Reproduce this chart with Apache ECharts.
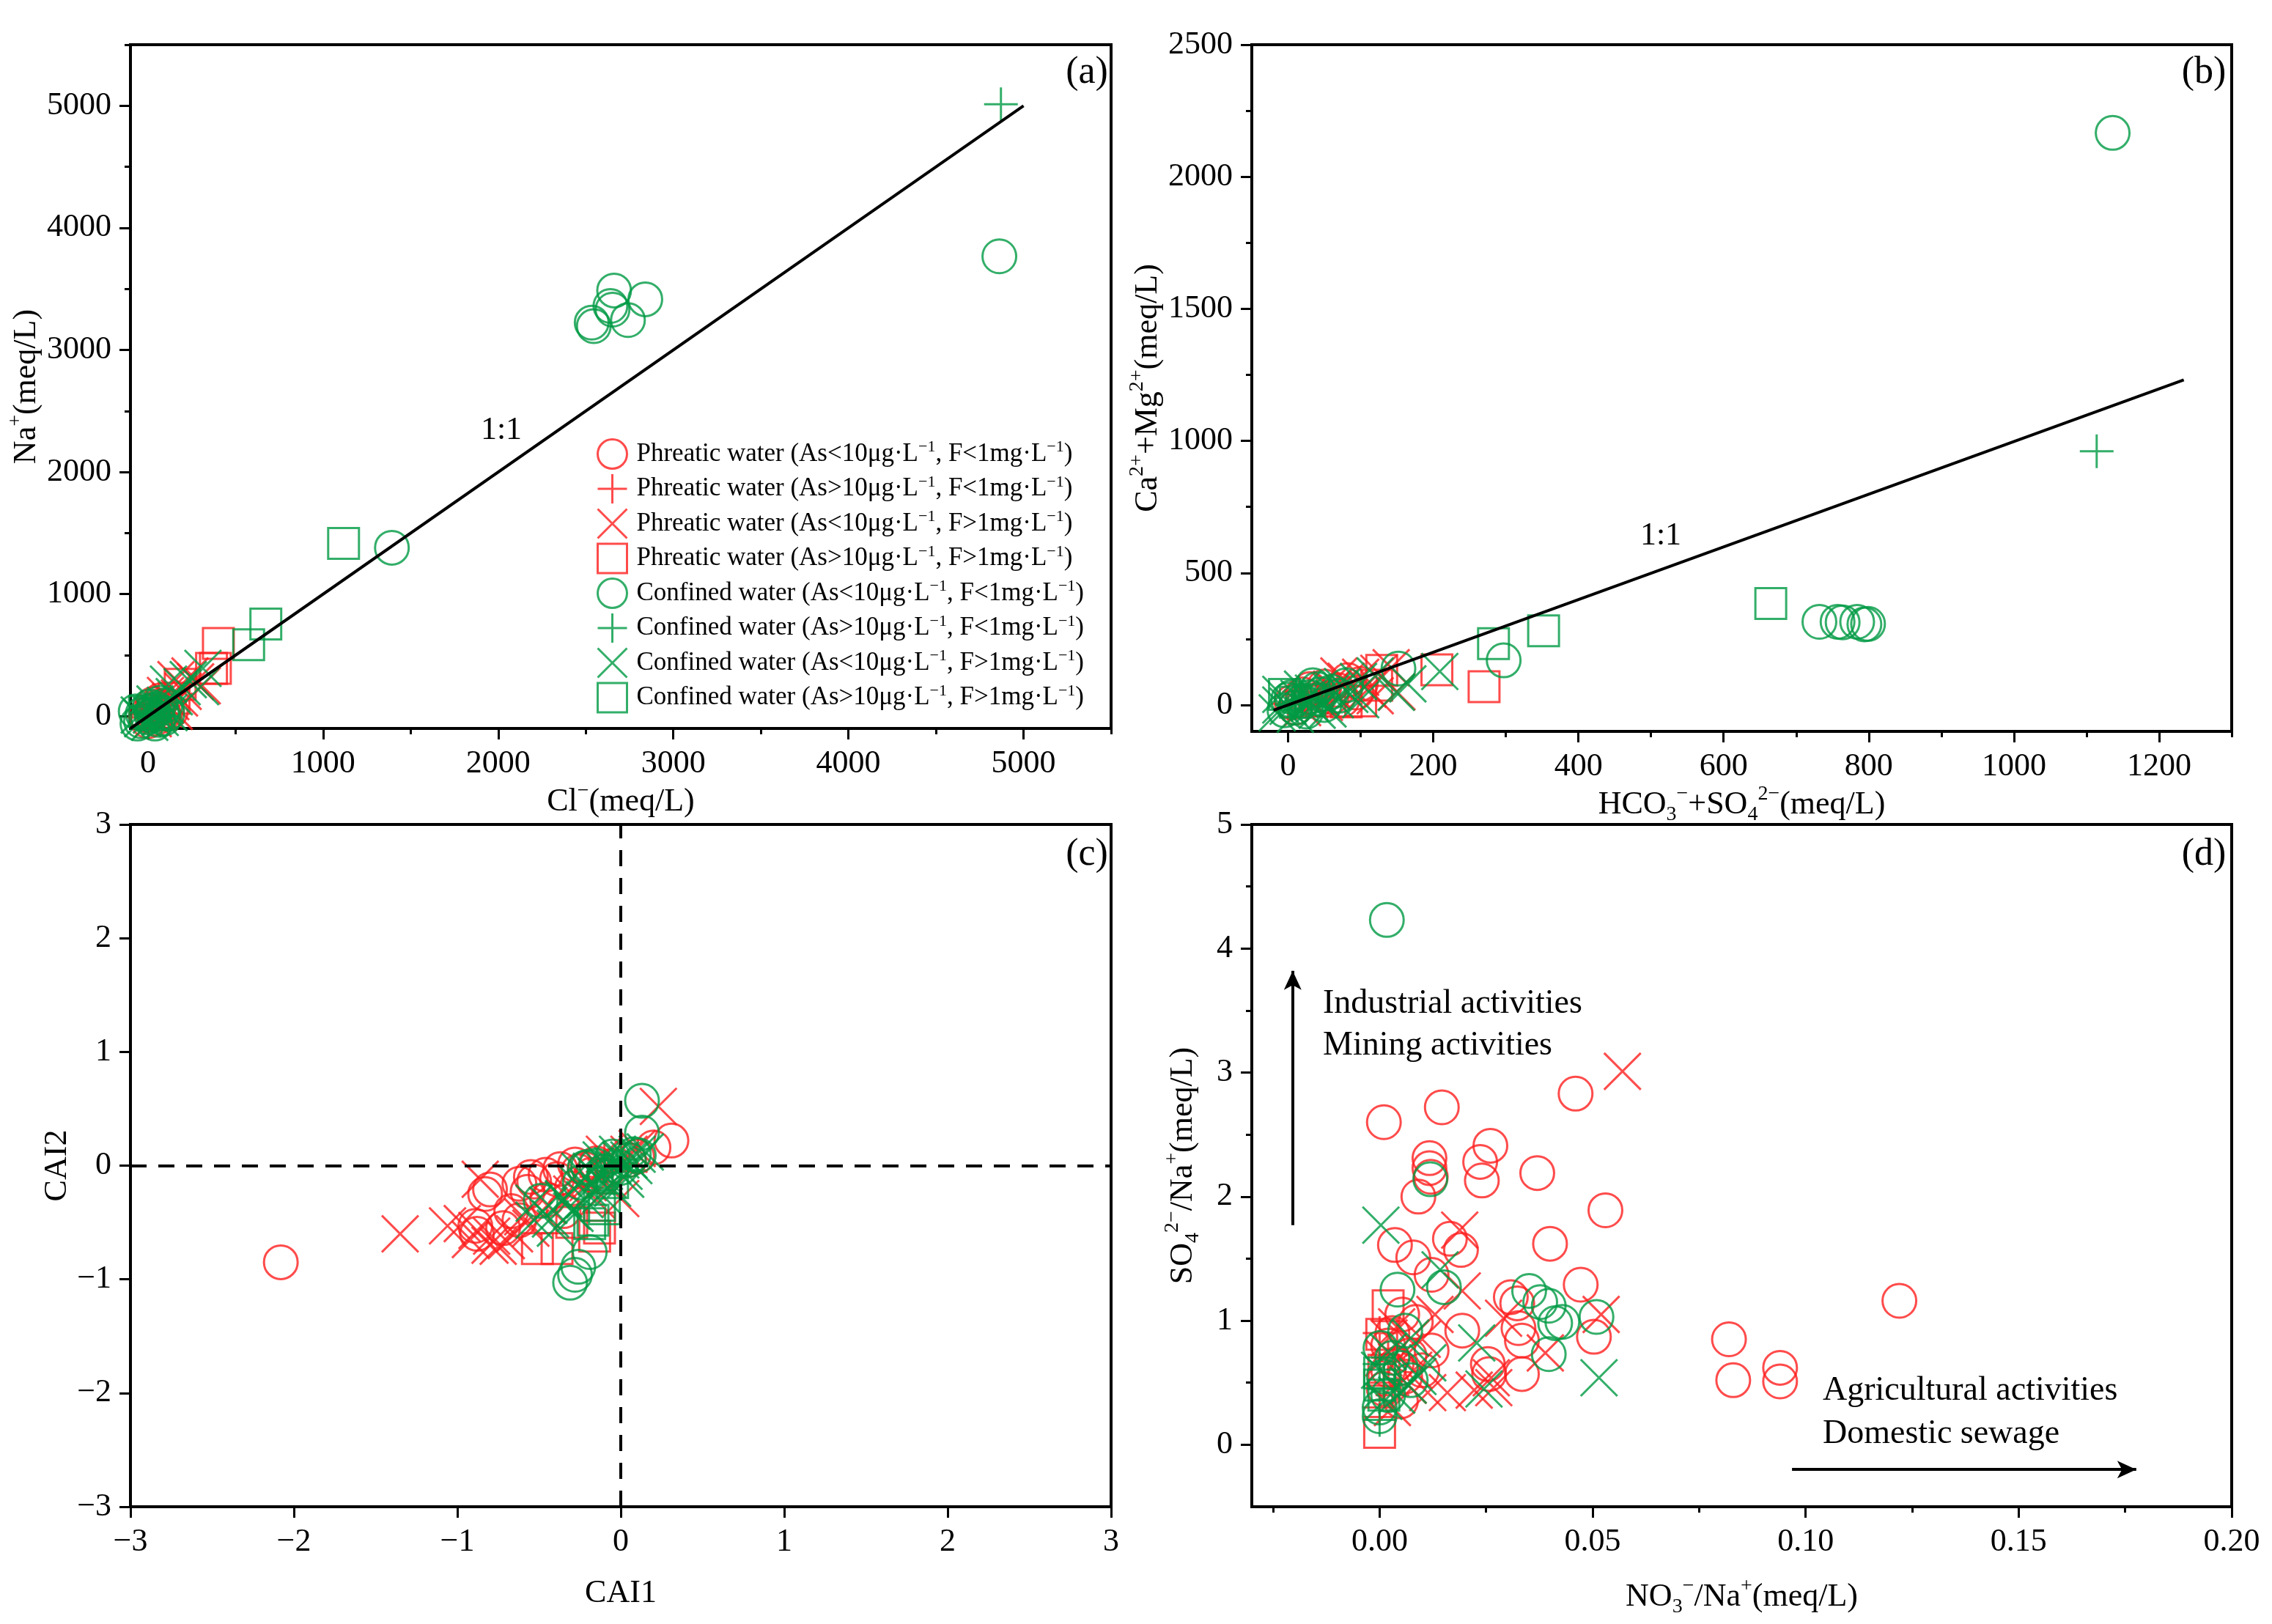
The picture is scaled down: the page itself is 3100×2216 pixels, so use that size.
<!DOCTYPE html>
<html>
<head>
<meta charset="utf-8">
<script src="https://cdn.jsdelivr.net/npm/echarts@6/dist/echarts.min.js"></script>
<style>
  html, body { margin: 0; background: #fff; }
  #chart-container { width: 3100px; height: 2216px; }
</style>
</head>
<body>
<div id="chart-container"></div>
<script>
// legend names (the "-1" becomes a superscript in the legend)
const seriesNames = [
    'Phreatic water (As<10μg·L-1, F<1mg·L-1)',
    'Phreatic water (As>10μg·L-1, F<1mg·L-1)',
    'Phreatic water (As<10μg·L-1, F>1mg·L-1)',
    'Phreatic water (As>10μg·L-1, F>1mg·L-1)',
    'Confined water (As<10μg·L-1, F<1mg·L-1)',
    'Confined water (As>10μg·L-1, F<1mg·L-1)',
    'Confined water (As<10μg·L-1, F>1mg·L-1)',
    'Confined water (As>10μg·L-1, F>1mg·L-1)'
];

// (a) Cl- vs Na+
const a_phr1 = [[20,40],[60,80],[-10,10],[90,20],[40,-20],[110,70],[0,-40],[70,130],[30,100],[130,40]];
const a_phr2 = [[10,20],[50,40],[80,90],[-20,-10],[120,110],[30,60]];
const a_phr3 = [[272,282],[201,204],[160,300],[240,330],[130,120],[90,60],[180,150],[60,30],[310,250],[30,-20],[150,40],[100,170]];
const a_phr4 = [[402,596],[363,392],[385,392],[184,262],[149,148],[60,20]];
const a_con1 = [[2534,3224],[2546,3195],[2641,3360],[2662,3487],[2653,3330],[2741,3245],[2840,3415],[4862,3767],[1393,1380],
    [50,60],[80,30],[20,10],[-30,20],[60,-30],[100,90],[0,-10],[30,50],[-40,-40],[90,-20],[10,80],
    [-60,-60],[40,-60],[-70,40],[110,20],[70,110]];
const a_con2 = [[4871,5013],[20,10],[50,50],[-10,30],[80,0]];
const a_con3 = [[314,392],[300,242],[195,242],[117,263],[230,300],[150,160],[100,90],[60,50],[20,10],[-30,-20],[40,100],[120,30],
    [-50,10],[10,-50],[70,-10]];
const a_con4 = [[673,756],[575,586],[1117,1416],[30,20],[-20,40]];
const a_line = [[-100,-100],[5000,5000]];

// (b) HCO3- + SO4 2- vs Ca2+ + Mg2+
const b_phr1 = [[82,94],[94,47],[68,57],[60,30],[40,20],[20,40],[100,80],[30,60],[5,10],[50,70],[75,20],[10,-10]];
const b_phr2 = [[10,10],[25,20],[40,35],[0,5],[55,30],[15,50]];
const b_phr3 = [[142,141],[125,120],[100,105],[80,90],[60,60],[110,60],[120,35],[30,20],[20,-10],[50,10],[150,50],[70,110]];
const b_phr4 = [[270,69],[205,133],[129,131],[122,75],[100,15],[80,12],[40,15]];
const b_con1 = [[1136,2166],[732,315],[757,315],[764,313],[784,315],[794,305],[799,307],[297,169],[152,138],[34,75],
    [60,50],[45,40],[20,15],[30,30],[70,35],[10,-10],[0,20],[40,60],[80,75],[-5,-20],[5,30],[25,-25],[50,0]];
const b_con2 = [[1114,961],[10,5],[20,20],[5,0]];
const b_con3 = [[209,127],[149,48],[97,89],[75,70],[60,50],[120,110],[30,10],[15,25],[0,-5],[45,30],[165,80],[-10,0],[100,20],[20,60],[55,-15],
    [-15,-30],[35,45],[65,20],[-10,40],[10,-35],[40,-20],[85,40]];
const b_con4 = [[665,384],[352,281],[283,232],[10,10],[30,20],[-5,40]];
const b_line = [[-20,-20],[1234,1231]];

// (c) CAI1 vs CAI2
const c_phr1 = [[-2.08,-0.85],[-0.83,-0.25],[-0.88,-0.60],[-0.57,-0.23],[-0.55,-0.10],[-0.53,-0.14],[-0.37,-0.03],[-0.39,-0.12],
    [-0.26,-0.05],[-0.22,-0.03],[0.31,0.22],[0.20,0.16],[-0.45,-0.30],[-0.62,-0.48],[-0.15,0.02],[-0.10,-0.10],[-0.30,-0.20],
    [0.05,0.05],[-0.72,-0.55],[-0.35,-0.40],[0.10,0.08],[-0.05,0.00],[-0.28,0.01],[-0.46,-0.08],[-0.62,-0.16],[-0.80,-0.21],
    [-0.89,-0.53],[-0.67,-0.40],[-0.18,-0.08]];
const c_phr2 = [[-0.10,0.05],[-0.05,-0.05],[0.00,0.02],[-0.15,-0.10]];
const c_phr3 = [[-1.35,-0.60],[-1.06,-0.53],[-0.97,-0.51],[-0.88,-0.57],[-0.79,-0.62],[-0.75,-0.71],[-0.70,-0.66],[0.23,0.52],
    [-0.86,-0.12],[-0.60,-0.45],[-0.45,-0.35],[-0.30,-0.25],[-0.20,-0.15],[0.05,0.10],[0.10,0.15],[-0.80,-0.70],
    [0.00,-0.29],[-0.15,-0.30],[-0.55,-0.55],[-0.92,-0.65],[-0.65,-0.60],[-0.10,0.10]];
const c_phr4 = [[-0.51,-0.73],[-0.39,-0.73],[-0.16,-0.62],[-0.30,-0.50],[-0.13,-0.55]];
const c_con1 = [[0.13,0.57],[0.13,0.29],[-0.31,-1.03],[-0.28,-0.96],[-0.26,-0.89],[-0.19,-0.76],[0.11,0.09],[0.05,0.05],
    [-0.10,-0.05],[-0.20,-0.01],[-0.15,0.00],[-0.05,0.08],[0.00,-0.02],[-0.49,-0.31],[-0.25,-0.15],[-0.10,-0.08],[0.08,0.10],[-0.22,-0.02]];
const c_con2 = [[-0.05,0.00],[0.00,0.05],[-0.10,-0.02]];
const c_con3 = [[-0.53,-0.48],[-0.44,-0.35],[-0.26,-0.17],[-0.35,-0.30],[-0.15,-0.10],[-0.10,-0.05],[-0.05,0.00],[0.00,0.05],
    [0.05,0.05],[0.10,0.10],[-0.20,-0.20],[-0.08,-0.12],[0.02,-0.05],[-0.40,-0.55],[-0.30,-0.40],[0.15,0.12],[-0.12,0.05],
    [-0.53,-0.33],[-0.35,-0.29],[-0.28,-0.42],[-0.43,-0.47],[-0.22,-0.30],[-0.18,-0.05],[-0.05,-0.20],[0.08,0.00],
    [-0.02,0.10],[-0.25,-0.05],[-0.12,-0.25],[0.03,-0.12]];
const c_con4 = [[-0.13,-0.35],[-0.17,-0.48],[-0.05,-0.15],[-0.19,-0.51],[-0.10,-0.38]];

// (d) NO3-/Na+ vs SO4 2-/Na+
const d_phr1 = [[0.001,2.60],[0.0146,2.72],[0.046,2.83],[0.026,2.41],[0.0117,2.31],[0.0117,2.23],[0.012,2.16],[0.0236,2.28],
    [0.024,2.13],[0.037,2.19],[0.0091,2.00],[0.053,1.89],[0.0036,1.61],[0.0079,1.51],[0.0165,1.66],[0.0191,1.57],[0.040,1.62],
    [0.0472,1.29],[0.0122,1.37],[0.0308,1.19],[0.0323,1.14],[0.0326,0.94],[0.0334,0.84],[0.0194,0.92],[0.0254,0.65],
    [0.0257,0.57],[0.0334,0.57],[0.0503,0.87],[0.122,1.16],[0.082,0.85],[0.083,0.52],[0.094,0.62],[0.094,0.51],[0.0122,0.76],
    [0.0085,0.99],[0.0053,1.05],[0.002,0.80],[0.004,0.65],[0.006,0.55],[0.001,0.45],[0.003,0.90],[0.007,0.72],[0.010,0.60],
    [0.005,0.35],[0.002,0.60]];
const d_phr2 = [[0.000,0.30],[0.001,0.50],[0.002,0.70],[0.000,0.90],[0.003,0.40]];
const d_phr3 = [[0.057,3.01],[0.0188,1.73],[0.0194,1.24],[0.052,1.05],[0.0291,1.02],[0.0262,0.54],[0.0389,0.74],[0.0159,0.42],
    [0.0222,0.44],[0.0268,0.46],[0.0113,0.42],[0.0067,0.48],[0.0022,0.86],[0.001,0.70],[0.004,0.95],[0.010,0.85],[0.008,0.60],
    [0.003,0.30],[0.013,1.05],[0.006,0.75]];
const d_phr4 = [[0.002,1.12],[0.000,0.10],[0.0005,0.89],[0.001,0.60]];
const d_con1 = [[0.0017,4.23],[0.0119,2.14],[0.0042,1.25],[0.0151,1.27],[0.0351,1.24],[0.0377,1.15],[0.0397,1.12],[0.0429,0.99],
    [0.0412,0.98],[0.0509,1.03],[0.0397,0.73],[0.000,0.23],[0.0002,0.78],[0.006,0.92],[0.0073,0.52],[0.000,0.30],[0.001,0.55],
    [0.003,0.70],[0.002,0.40],[0.005,0.62]];
const d_con2 = [[0.000,0.20],[0.001,0.45],[0.000,0.65]];
const d_con3 = [[0.0003,1.77],[0.0142,1.41],[0.0228,0.82],[0.0245,0.45],[0.0515,0.54],[0.0073,0.86],[0.0113,0.66],[0.0067,0.48],
    [0.000,0.60],[0.002,0.75],[0.004,0.40],[0.009,0.55],[0.001,0.35]];
const d_con4 = [[0.000,0.48],[0.000,0.58],[0.001,0.40]];
const d_arrowUp = [[-0.0204,1.77],[-0.0204,3.82]];
const d_arrowRight = [[0.0968,-0.20],[0.1776,-0.20]];

// axis ranges and tick values
const a_xTicks = [0,1000,2000,3000,4000,5000];
const a_xMinor = [500,1500,2500,3500,4500,5500];
const a_yTicks = [0,1000,2000,3000,4000,5000];
const a_yMinor = [500,1500,2500,3500,4500,5500];
const b_xTicks = [0,200,400,600,800,1000,1200];
const b_xMinor = [100,300,500,700,900,1100,1300];
const b_yTicks = [0,500,1000,1500,2000,2500];
const b_yMinor = [250,750,1250,1750,2250];
const c_ticks = [-3,-2,-1,0,1,2,3];
const d_xTicks = [0,0.05,0.1,0.15,0.2];
const d_xMinor = [-0.025,0.025,0.075,0.125,0.175];
const d_yTicks = [0,1,2,3,4,5];
const d_yMinor = [0.5,1.5,2.5,3.5,4.5];

const FONT = '"Liberation Serif", "Times New Roman", serif';
const RED = '#ff1e1e';
const GREEN = '#009a44';
const PLUS = 'path://M0,50L100,50M50,0L50,100';
const CROSS = 'path://M0,0L100,100M100,0L0,100';
const symbols = ['circle', PLUS, CROSS, 'rect', 'circle', PLUS, CROSS, 'rect'];
const sizes = [46, 46, 50, 42, 46, 46, 50, 42];

const rich = {
    n: { fontFamily: FONT, fontSize: 44, color: '#000', lineHeight: 56 },
    sup: { fontFamily: FONT, fontSize: 28, color: '#000', lineHeight: 30, verticalAlign: 'top' },
    sub: { fontFamily: FONT, fontSize: 28, color: '#000', lineHeight: 30, verticalAlign: 'bottom' }
};

// axis carrying the line, labels and title
function labelAxis(grid, pos, min, max, ticks, fmt, name, gap) {
    return {
        type: 'value', gridIndex: grid, position: pos, min: min, max: max,
        axisLine: { show: true, onZero: false, lineStyle: { color: '#000', width: 4 } },
        axisTick: { show: false },
        axisLabel: { customValues: ticks, formatter: fmt, fontFamily: FONT, fontSize: 44, color: '#000', margin: 26 },
        splitLine: { show: false },
        name: name, nameLocation: 'middle', nameGap: gap,
        nameTextStyle: { fontFamily: FONT, fontSize: 44, color: '#000', rich: rich }
    };
}
// overlay axis that only draws ticks
function tickAxis(grid, pos, min, max, ticks, len) {
    return {
        type: 'value', gridIndex: grid, position: pos, min: min, max: max,
        axisLine: { show: false, onZero: false },
        axisTick: { show: true, customValues: ticks, length: len, lineStyle: { color: '#000', width: 3 } },
        axisLabel: { show: false },
        splitLine: { show: false }
    };
}
function axisSet(grid, pos, min, max, ticks, minor, fmt, name, gap) {
    return [
        labelAxis(grid, pos, min, max, ticks, fmt, name, gap),
        tickAxis(grid, pos, min, max, ticks, 15),
        tickAxis(grid, pos, min, max, minor, 8)
    ];
}
const plain = v => String(v);
const minus = v => String(v).replace('-', '−');

const xAxis = [].concat(
    axisSet(0, 'bottom', -100, 5500, a_xTicks, a_xMinor, plain, '{n|Cl}{sup|−}{n|(meq/L)}', 72),
    axisSet(1, 'bottom', -50, 1300, b_xTicks, b_xMinor, plain, '{n|HCO}{sub|3}{sup|−}{n|+SO}{sub|4}{sup|2−}{n|(meq/L)}', 72),
    axisSet(2, 'bottom', -3, 3, c_ticks, [], minus, '{n|CAI1}', 90),
    axisSet(3, 'bottom', -0.03, 0.2, d_xTicks, d_xMinor, v => v.toFixed(2), '{n|NO}{sub|3}{sup|−}{n|/Na}{sup|+}{n|(meq/L)}', 95)
);
const yAxis = [].concat(
    axisSet(0, 'left', -100, 5500, a_yTicks, a_yMinor, plain, '{n|Na}{sup|+}{n|(meq/L)}', 114),
    axisSet(1, 'left', -100, 2500, b_yTicks, b_yMinor, plain, '{n|Ca}{sup|2+}{n|+Mg}{sup|2+}{n|(meq/L)}', 114),
    axisSet(2, 'left', -3, 3, c_ticks, [], minus, '{n|CAI2}', 72),
    axisSet(3, 'left', -0.5, 5, d_yTicks, d_yMinor, plain, '{n|SO}{sub|4}{sup|2−}{n|/Na}{sup|+}{n|(meq/L)}', 66)
);

const panels = [
    [a_phr1, a_phr2, a_phr3, a_phr4, a_con1, a_con2, a_con3, a_con4],
    [b_phr1, b_phr2, b_phr3, b_phr4, b_con1, b_con2, b_con3, b_con4],
    [c_phr1, c_phr2, c_phr3, c_phr4, c_con1, c_con2, c_con3, c_con4],
    [d_phr1, d_phr2, d_phr3, d_phr4, d_con1, d_con2, d_con3, d_con4]
];

const series = [];
panels.forEach(function (groups, p) {
    groups.forEach(function (data, k) {
        series.push({
            type: 'scatter', name: seriesNames[k],
            xAxisIndex: p * 3, yAxisIndex: p * 3,
            symbol: symbols[k], symbolSize: sizes[k],
            itemStyle: { color: 'none', borderColor: k < 4 ? RED : GREEN, borderWidth: 3 },
            emphasis: { disabled: true },
            data: data
        });
    });
});

// 1:1 lines
[a_line, b_line].forEach(function (d, p) {
    series.push({
        type: 'line', xAxisIndex: p * 3, yAxisIndex: p * 3, data: d,
        symbol: 'none', lineStyle: { color: '#000', width: 4 }, silent: true
    });
});

// dashed zero lines in (c)
series.push({
    type: 'line', xAxisIndex: 6, yAxisIndex: 6, data: [],
    markLine: {
        silent: true, symbol: ['none', 'none'], label: { show: false },
        lineStyle: { color: '#000', width: 4, type: [22, 16] },
        data: [{ xAxis: 0 }, { yAxis: 0 }]
    }
});

// arrows in (d)
series.push({
    type: 'line', xAxisIndex: 9, yAxisIndex: 9, data: [],
    markLine: {
        silent: true, symbol: ['none', 'arrow'], symbolSize: [18, 26], label: { show: false },
        lineStyle: { color: '#000', width: 4, type: 'solid' },
        data: [
            [{ coord: d_arrowUp[0] }, { coord: d_arrowUp[1] }],
            [{ coord: d_arrowRight[0] }, { coord: d_arrowRight[1] }]
        ]
    }
});

function txt(x, y, text, size, align) {
    return {
        type: 'text', x: x, y: y, silent: true,
        style: { text: text, fontFamily: FONT, fontSize: size, fill: '#000', align: align || 'center', verticalAlign: 'middle' }
    };
}

const option = {
    backgroundColor: '#fff',
    animation: false,
    grid: [
        { left: 178, top: 61, width: 1338, height: 933 },
        { left: 1708, top: 61, width: 1337, height: 937 },
        { left: 178, top: 1125, width: 1338, height: 931 },
        { left: 1708, top: 1125, width: 1337, height: 931 }
    ].map(g => Object.assign(g, { show: true, borderColor: '#000', borderWidth: 4, backgroundColor: 'transparent' })),
    xAxis: xAxis,
    yAxis: yAxis,
    legend: {
        data: seriesNames,
        orient: 'vertical', left: 808, top: 592,
        itemWidth: 40, itemHeight: 40, itemGap: 2.5,
        selectedMode: false,
        itemStyle: { borderWidth: 3 },
        formatter: name => '{n|' + name.replace(/-1/g, '}{sup|−1}{n|') + '}',
        textStyle: {
            fontFamily: FONT, fontSize: 35, color: '#000', padding: [0, 0, 0, 8],
            rich: {
                n: { fontFamily: FONT, fontSize: 35, color: '#000', lineHeight: 40 },
                sup: { fontFamily: FONT, fontSize: 22, color: '#000', lineHeight: 22, verticalAlign: 'top' }
            }
        }
    },
    graphic: [
        txt(1483, 99, '(a)', 52), txt(3007, 99, '(b)', 52),
        txt(1483, 1166, '(c)', 52), txt(3007, 1166, '(d)', 52),
        txt(684, 587, '1:1', 44), txt(2266, 731, '1:1', 44),
        txt(1805, 1370, 'Industrial activities', 46, 'left'),
        txt(1805, 1427, 'Mining activities', 46, 'left'),
        txt(2487, 1898, 'Agricultural activities', 46, 'left'),
        txt(2487, 1957, 'Domestic sewage', 46, 'left')
    ],
    series: series
};

const chart = echarts.init(document.getElementById('chart-container'));
chart.setOption(option);
</script>
</body>
</html>
